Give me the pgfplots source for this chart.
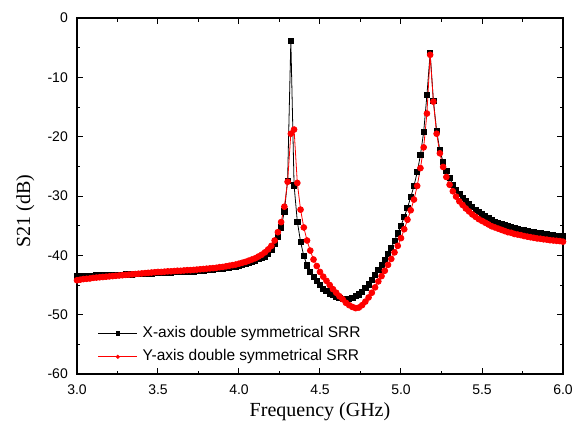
\documentclass[border=0pt]{standalone}
\usepackage{fontspec}
\setmainfont{Liberation Sans}
\newfontfamily\timesfont{Liberation Serif}
\usepackage{pgfplots}
\usepackage{pgfplotstable}
\pgfplotsset{compat=1.18}

% X-axis double symmetrical SRR
\pgfplotstableread{
f s
3.00 -43.4
3.02 -43.4
3.04 -43.4
3.06 -43.4
3.08 -43.4
3.10 -43.4
3.12 -43.35
3.14 -43.35
3.16 -43.35
3.18 -43.3
3.20 -43.3
3.22 -43.3
3.24 -43.3
3.26 -43.25
3.28 -43.25
3.30 -43.2
3.32 -43.2
3.34 -43.2
3.36 -43.15
3.38 -43.15
3.40 -43.1
3.42 -43.1
3.44 -43.05
3.46 -43.05
3.48 -43.0
3.50 -43.0
3.52 -42.95
3.54 -42.95
3.56 -42.9
3.58 -42.9
3.60 -42.85
3.62 -42.85
3.64 -42.8
3.66 -42.8
3.68 -42.75
3.70 -42.7
3.72 -42.7
3.74 -42.65
3.76 -42.6
3.78 -42.55
3.80 -42.5
3.82 -42.45
3.84 -42.4
3.86 -42.35
3.88 -42.3
3.90 -42.2
3.92 -42.15
3.94 -42.05
3.96 -41.95
3.98 -41.85
4.00 -41.75
4.02 -41.6
4.04 -41.45
4.06 -41.3
4.08 -41.1
4.10 -40.9
4.12 -40.65
4.14 -40.4
4.16 -40.2
4.18 -39.8
4.20 -39.1
4.22 -38.1
4.24 -36.9
4.26 -35.3
4.28 -32.6
4.30 -27.4
4.32 -3.8
4.34 -28.2
4.36 -34.3
4.38 -37.7
4.40 -40.1
4.42 -41.7
4.44 -42.8
4.46 -43.6
4.48 -44.3
4.50 -45.0
4.52 -45.6
4.54 -46.0
4.56 -46.4
4.58 -46.7
4.60 -47.0
4.62 -47.2
4.64 -47.4
4.66 -47.5
4.68 -47.4
4.70 -47.2
4.72 -46.9
4.74 -46.6
4.76 -46.1
4.78 -45.5
4.80 -44.9
4.82 -44.2
4.84 -43.3
4.86 -42.5
4.88 -41.6
4.90 -40.8
4.92 -39.8
4.94 -38.7
4.96 -37.5
4.98 -36.3
5.00 -35.0
5.02 -33.5
5.04 -32.0
5.06 -30.2
5.08 -28.3
5.10 -26.0
5.12 -23.1
5.14 -19.2
5.16 -13.0
5.18 -5.9
5.20 -14.0
5.22 -19.0
5.24 -22.3
5.26 -24.3
5.28 -25.8
5.30 -27.0
5.32 -28.1
5.34 -29.0
5.36 -29.7
5.38 -30.3
5.40 -30.9
5.42 -31.4
5.44 -31.9
5.46 -32.3
5.48 -32.7
5.50 -33.1
5.52 -33.4
5.54 -33.7
5.56 -34.0
5.58 -34.3
5.60 -34.5
5.62 -34.7
5.64 -34.9
5.66 -35.1
5.68 -35.3
5.70 -35.4
5.72 -35.55
5.74 -35.7
5.76 -35.8
5.78 -35.9
5.80 -36.0
5.82 -36.1
5.84 -36.2
5.86 -36.3
5.88 -36.4
5.90 -36.45
5.92 -36.5
5.94 -36.6
5.96 -36.7
5.98 -36.75
6.00 -36.8
}\xsrr

% Y-axis double symmetrical SRR
\pgfplotstableread{
f s
3.00 -44.2
3.02 -44.1
3.04 -44.0
3.06 -43.95
3.08 -43.9
3.10 -43.8
3.12 -43.75
3.14 -43.7
3.16 -43.65
3.18 -43.6
3.20 -43.55
3.22 -43.5
3.24 -43.45
3.26 -43.4
3.28 -43.35
3.30 -43.3
3.32 -43.25
3.34 -43.2
3.36 -43.15
3.38 -43.1
3.40 -43.05
3.42 -43.0
3.44 -42.95
3.46 -42.9
3.48 -42.85
3.50 -42.8
3.52 -42.8
3.54 -42.75
3.56 -42.7
3.58 -42.7
3.60 -42.65
3.62 -42.6
3.64 -42.6
3.66 -42.55
3.68 -42.5
3.70 -42.5
3.72 -42.45
3.74 -42.4
3.76 -42.35
3.78 -42.3
3.80 -42.25
3.82 -42.2
3.84 -42.15
3.86 -42.1
3.88 -42.0
3.90 -41.95
3.92 -41.85
3.94 -41.75
3.96 -41.65
3.98 -41.55
4.00 -41.4
4.02 -41.25
4.04 -41.1
4.06 -40.9
4.08 -40.7
4.10 -40.5
4.12 -40.2
4.14 -39.9
4.16 -39.5
4.18 -39.0
4.20 -38.4
4.22 -37.5
4.24 -36.1
4.26 -34.4
4.28 -31.8
4.30 -27.6
4.32 -19.5
4.34 -18.8
4.36 -27.8
4.38 -32.3
4.40 -35.3
4.42 -37.5
4.44 -39.2
4.46 -40.7
4.48 -41.8
4.50 -42.8
4.52 -43.6
4.54 -44.3
4.56 -45.0
4.58 -45.7
4.60 -46.3
4.62 -46.9
4.64 -47.4
4.66 -48.0
4.68 -48.4
4.70 -48.7
4.72 -48.9
4.74 -48.8
4.76 -48.4
4.78 -47.8
4.80 -47.1
4.82 -46.3
4.84 -45.4
4.86 -44.4
4.88 -43.5
4.90 -42.6
4.92 -41.6
4.94 -40.6
4.96 -39.5
4.98 -38.4
5.00 -37.1
5.02 -35.6
5.04 -34.0
5.06 -32.4
5.08 -30.6
5.10 -28.3
5.12 -25.3
5.14 -21.8
5.16 -16.1
5.18 -6.2
5.20 -14.1
5.22 -19.5
5.24 -22.8
5.26 -25.1
5.28 -26.8
5.30 -28.1
5.32 -29.2
5.34 -30.1
5.36 -30.9
5.38 -31.5
5.40 -32.1
5.42 -32.6
5.44 -33.1
5.46 -33.5
5.48 -33.9
5.50 -34.2
5.52 -34.5
5.54 -34.8
5.56 -35.1
5.58 -35.3
5.60 -35.5
5.62 -35.7
5.64 -35.9
5.66 -36.1
5.68 -36.2
5.70 -36.4
5.72 -36.5
5.74 -36.6
5.76 -36.75
5.78 -36.85
5.80 -36.95
5.82 -37.05
5.84 -37.15
5.86 -37.2
5.88 -37.3
5.90 -37.35
5.92 -37.45
5.94 -37.5
5.96 -37.55
5.98 -37.6
6.00 -37.7
}\ysrr

\begin{document}
\begin{tikzpicture}
\begin{axis}[
  scale only axis, width=486pt, height=356pt,
  xmin=3, xmax=6, ymin=-60, ymax=0,
  xtick={3,3.5,4,4.5,5,5.5,6}, minor x tick num=1,
  ytick={-60,-50,-40,-30,-20,-10,0}, minor y tick num=1,
  tick align=inside, major tick length=6pt, minor tick length=3.5pt,
  axis line style={line width=1.3pt},
  every tick/.style={black, line width=1pt},
  /pgf/number format/assume math mode=true,
  ticklabel style={font=\fontsize{14}{16}\selectfont, inner sep=0pt},
  yticklabel style={anchor=east, xshift=-9pt},
  xticklabel style={anchor=north, yshift=-11pt,
     /pgf/number format/fixed, /pgf/number format/fixed zerofill,
     /pgf/number format/precision=1},
  xlabel={Frequency (GHz)}, ylabel={S21 (dB)},
  label style={font=\timesfont\fontsize{20}{24}\selectfont, inner sep=0pt},
  xlabel style={at={(axis description cs:0.5,0)}, anchor=base, yshift=-42.7pt},
  ylabel style={at={(axis description cs:-0.0967,0.458)}, anchor=base},
  legend image code/.code={\draw[mark repeat=2,mark phase=2,#1,mark size=1.6pt]
     plot coordinates {(0pt,0pt) (19.5pt,0pt) (39pt,0pt)};},
  legend style={draw=none, fill=none, at={(axis description cs:0.0426,0.0267)},
     anchor=south west, inner sep=0pt, font=\fontsize{15.5}{18}\selectfont,
     nodes={inner sep=0pt, text height=11.5pt, text depth=3.5pt},
     column sep=5pt, row sep=8.3pt},
  legend cell align=left,
]
\addplot[black, line width=0.8pt, mark=square*, mark size=2.6pt] table[x=f, y=s] {\xsrr};
\addlegendentry{X-axis double symmetrical SRR}
\addplot[red, line width=0.8pt, mark=*, mark size=2.9pt] table[x=f, y=s] {\ysrr};
\addlegendentry{Y-axis double symmetrical SRR}
\end{axis}
\pgfresetboundingbox
\path[use as bounding box] (-77pt,-55pt) rectangle (502pt,374pt);
\end{tikzpicture}
\end{document}
